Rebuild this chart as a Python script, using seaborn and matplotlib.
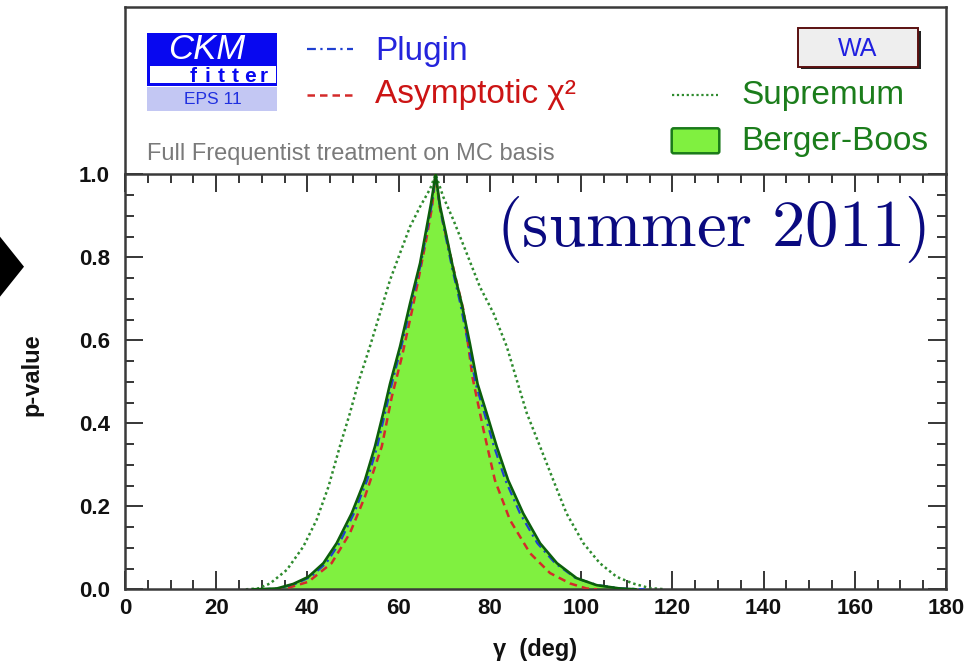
import numpy as np
import pandas as pd
import seaborn as sns
import matplotlib
matplotlib.use("Agg")
import matplotlib.pyplot as plt
from matplotlib.patches import Rectangle, Polygon, FancyBboxPatch
from matplotlib.lines import Line2D
from matplotlib.ticker import MultipleLocator
from matplotlib.transforms import Affine2D

# ---------------- data ----------------
gamma_bb = [28, 30, 33.3, 36.9, 40.2, 43.5, 46.4, 49.7, 52.6, 54.8, 56.6, 58.1, 60.3, 62.5, 64.7, 67.1, 68.1,
            69.1, 70.5, 72.0, 73.8, 75.6, 77.3, 79.3, 81.5, 84.0, 87.3, 91.0, 94.7, 99.0, 103.4, 108.5, 112]
p_bb = [0.0, 0.0005, 0.002, 0.013, 0.030, 0.063, 0.111, 0.183, 0.263, 0.344, 0.424, 0.495, 0.585, 0.689, 0.786, 0.930, 1.0,
        0.922, 0.850, 0.770, 0.689, 0.593, 0.495, 0.424, 0.344, 0.263, 0.183, 0.111, 0.063, 0.027, 0.010, 0.002, 0.0]

gamma_plugin = [30, 33.6, 37.3, 40.7, 44.1, 47.0, 50.2, 53.1, 55.3, 57.0, 58.5, 60.6, 62.8, 64.9, 67.3, 68.1,
                69.0, 70.3, 71.8, 73.5, 75.2, 76.9, 78.8, 80.9, 83.4, 86.6, 90.4, 94.3, 98.8, 103.6, 109.0, 114]
p_plugin = [0.0, 0.002, 0.013, 0.030, 0.063, 0.111, 0.183, 0.263, 0.344, 0.424, 0.495, 0.585, 0.689, 0.786, 0.930, 1.0,
            0.922, 0.850, 0.770, 0.689, 0.593, 0.495, 0.424, 0.344, 0.263, 0.183, 0.111, 0.063, 0.027, 0.010, 0.002, 0.0]

gamma_asym = [33, 36.2, 40.2, 45.3, 49.3, 52.6, 56.3, 58.5, 60.7, 62.9, 64.3, 66.0, 67.3, 68.1,
              69.0, 70.9, 72.5, 74.2, 76.2, 78.6, 81.1, 84.4, 88.8, 93.2, 97.6, 101.2, 103.5]
p_asym = [0.0, 0.005, 0.018, 0.063, 0.135, 0.223, 0.344, 0.464, 0.560, 0.670, 0.745, 0.840, 0.920, 1.0,
          0.920, 0.826, 0.750, 0.673, 0.510, 0.384, 0.263, 0.167, 0.087, 0.039, 0.014, 0.002, 0.0]

gamma_sup = [26.5, 29.2, 31.8, 35.5, 39.1, 42.0, 44.6, 47.1, 49.3, 51.2, 53.7, 55.9, 58.1, 60.3, 62.5, 64.7, 66.9, 68.1,
             69.8, 72.0, 74.9, 77.8, 80.8, 83.7, 85.9, 88.1, 91.0, 93.9, 96.8, 100.5, 104.1, 107.8, 111.4, 115.0, 118.5]
p_sup = [0.0, 0.002, 0.014, 0.047, 0.103, 0.167, 0.247, 0.344, 0.424, 0.500, 0.585, 0.665, 0.745, 0.810, 0.874, 0.922, 0.965, 1.0,
         0.945, 0.890, 0.810, 0.729, 0.665, 0.585, 0.504, 0.424, 0.344, 0.263, 0.183, 0.111, 0.063, 0.030, 0.014, 0.003, 0.0]

xticks = [0, 20, 40, 60, 80, 100, 120, 140, 160, 180]
yticks = [0.0, 0.2, 0.4, 0.6, 0.8, 1.0]
xtick_labels = ["0", "20", "40", "60", "80", "100", "120", "140", "160", "180"]
ytick_labels = ["0.0", "0.2", "0.4", "0.6", "0.8", "1.0"]

legend_labels = ["Plugin", "Asymptotic χ²", "Supremum", "Berger-Boos"]

# ---------------- style ----------------
sns.set_theme(style="white")
plt.rcParams["font.family"] = ["Liberation Sans", "DejaVu Sans"]
plt.rcParams["mathtext.fontset"] = "cm"

W, H = 974, 664
fig = plt.figure(figsize=(W / 100, H / 100), dpi=100)
fig.patch.set_facecolor("white")
pix = Affine2D().scale(1.0 / W, -1.0 / H).translate(0, 1) + fig.transFigure

def fx(x):
    return x / W

def fy(y):
    return 1 - y / H

L, R, T, B, TOP = 125, 946, 174.3, 589.3, 7
frame_col = "#3a3a3a"

# upper (legend) box
ax_top = fig.add_axes([fx(L), fy(T), (R - L) / W, (T - TOP) / H])
ax_top.set_xticks([])
ax_top.set_yticks([])
ax_top.set_facecolor("white")
for s in ["left", "right", "top"]:
    ax_top.spines[s].set_color(frame_col)
    ax_top.spines[s].set_linewidth(1.8)
ax_top.spines["bottom"].set_visible(False)

# main axes
ax = fig.add_axes([fx(L), fy(B), (R - L) / W, (B - T) / H])
ax.set_facecolor("white")

fill_col = "#80f040"
solid_col = "#0b5e0b"
ax.fill_between(gamma_bb, p_bb, 0, color=fill_col, lw=0, zorder=1)

df_sup = pd.DataFrame({"gamma": gamma_sup, "p": p_sup})
df_asym = pd.DataFrame({"gamma": gamma_asym, "p": p_asym})
df_plug = pd.DataFrame({"gamma": gamma_plugin, "p": p_plugin})
df_bb = pd.DataFrame({"gamma": gamma_bb, "p": p_bb})

sns.lineplot(data=df_sup, x="gamma", y="p", ax=ax, color="#2e8b2e", linewidth=1.8,
             linestyle=(0, (1, 1.2)), sort=False, estimator=None, zorder=2)
sns.lineplot(data=df_asym, x="gamma", y="p", ax=ax, color="#d42a2a", linewidth=1.8,
             linestyle=(0, (3, 2)), sort=False, estimator=None, zorder=3)
sns.lineplot(data=df_plug, x="gamma", y="p", ax=ax, color="#1f3fd0", linewidth=1.6,
             linestyle=(0, (4, 2, 1, 2)), sort=False, estimator=None, zorder=4)
sns.lineplot(data=df_bb, x="gamma", y="p", ax=ax, color=solid_col, linewidth=1.9,
             sort=False, estimator=None, zorder=5)

ax.set_xlim(0, 180)
ax.set_ylim(0, 1)
ax.set_xticks(xticks)
ax.set_xticklabels(xtick_labels, fontweight="bold", fontsize=16)
ax.set_yticks(yticks)
ax.set_yticklabels(ytick_labels, fontweight="bold", fontsize=16)
ax.xaxis.set_minor_locator(MultipleLocator(5))
ax.yaxis.set_minor_locator(MultipleLocator(0.05))
ax.tick_params(which="both", direction="in", top=True, right=True, bottom=True, left=True,
               color="black")
ax.tick_params(which="major", length=13, width=1.1)
ax.tick_params(which="minor", length=6.5, width=1.1)
ax.tick_params(axis="x", which="major", pad=6, labelcolor="#111111")
ax.tick_params(axis="y", which="major", pad=11, labelcolor="#111111")
for s in ax.spines.values():
    s.set_color(frame_col)
    s.set_linewidth(1.8)

ax.set_xlabel("γ  (deg)", fontsize=17, fontweight="bold", color="#111111")
ax.set_ylabel("p-value", fontsize=17, fontweight="bold", color="#111111")
ax.xaxis.set_label_coords(0.5, (B - 638) / (B - T))
ax.yaxis.set_label_coords((43 - L) / (R - L), (B - 375) / (B - T))

# "(summer 2011)"
fig.text(496, 246, r"$\mathrm{(summer\ 2011)}$", transform=pix, fontsize=48,
         color="#0a0a80", ha="left", va="baseline", zorder=6)

# ---------------- upper box decorations ----------------
# CKMfitter logo
fig.add_artist(Rectangle((147.3, 32.7), 130, 53.3, transform=pix, facecolor="#0808f0",
                         edgecolor="none", zorder=2))
fig.add_artist(Rectangle((150, 66), 126, 17.3, transform=pix, facecolor="white",
                         edgecolor="none", zorder=3))
fig.add_artist(Rectangle((147.3, 87.3), 130, 23.4, transform=pix, facecolor="#c3c7f3",
                         edgecolor="none", zorder=2))
fig.text(207, 49.5, "CKM", transform=pix, fontsize=25, style="italic", color="white",
         ha="center", va="center", zorder=4)
for i, ch in enumerate("fitter"):
    fig.text(193 + i * 14.2, 82, ch, transform=pix, fontsize=15, fontweight="bold",
             color="#0808f0", ha="center", va="baseline", zorder=4)
fig.text(213, 99, "EPS 11", transform=pix, fontsize=12.5, color="#2030e0",
         ha="center", va="center", zorder=4)

# legend entries
fig.add_artist(Line2D([306.7, 353.3], [49.3, 49.3], transform=pix, color="#1f3fd0",
                      lw=1.6, linestyle=(0, (4, 2, 1, 2)), zorder=4))
fig.text(375, 60, legend_labels[0], transform=pix, fontsize=24, color="#2424dc",
         ha="left", va="baseline", zorder=4)
fig.add_artist(Line2D([306.7, 353.3], [95, 95], transform=pix, color="#d42a2a",
                      lw=1.8, linestyle=(0, (3, 2)), zorder=4))
fig.text(375, 103.5, legend_labels[1], transform=pix, fontsize=24, color="#cc1414",
         ha="left", va="baseline", zorder=4)
fig.add_artist(Line2D([671.7, 718.3], [95, 95], transform=pix, color="#2e8b2e",
                      lw=1.6, linestyle=(0, (1, 1.2)), zorder=4))
fig.text(741, 104, legend_labels[2], transform=pix, fontsize=24, color="#1b7d1b",
         ha="left", va="baseline", zorder=4)
fig.add_artist(FancyBboxPatch((671.7, 128.3), 47.6, 25, boxstyle="round,pad=0,rounding_size=2",
                              transform=pix, facecolor=fill_col, edgecolor="#1a7a1a", lw=1.8, zorder=4))
fig.text(741, 150, legend_labels[3], transform=pix, fontsize=24, color="#1b7d1b",
         ha="left", va="baseline", zorder=4)

fig.text(147, 160, "Full Frequentist treatment on MC basis", transform=pix, fontsize=17,
         color="#7a7a7a", ha="left", va="baseline", zorder=4)

# WA box
fig.add_artist(Rectangle((801, 31), 120, 38.4, transform=pix, facecolor="#222222",
                         edgecolor="none", zorder=3))
fig.add_artist(Rectangle((798.3, 28.3), 120, 38.4, transform=pix, facecolor="#eeeeee",
                         edgecolor="#5a1010", lw=1.4, zorder=4))
fig.text(858, 48.5, "WA", transform=pix, fontsize=18, color="#2020e0",
         ha="center", va="center", zorder=5)

# black pointer at the left edge
fig.add_artist(Polygon([(-20, 211.7), (24, 266.7), (-20, 321.7)], closed=True, transform=pix,
                       facecolor="black", edgecolor="none", zorder=5))

fig.savefig("out.png", dpi=100, facecolor="white")
